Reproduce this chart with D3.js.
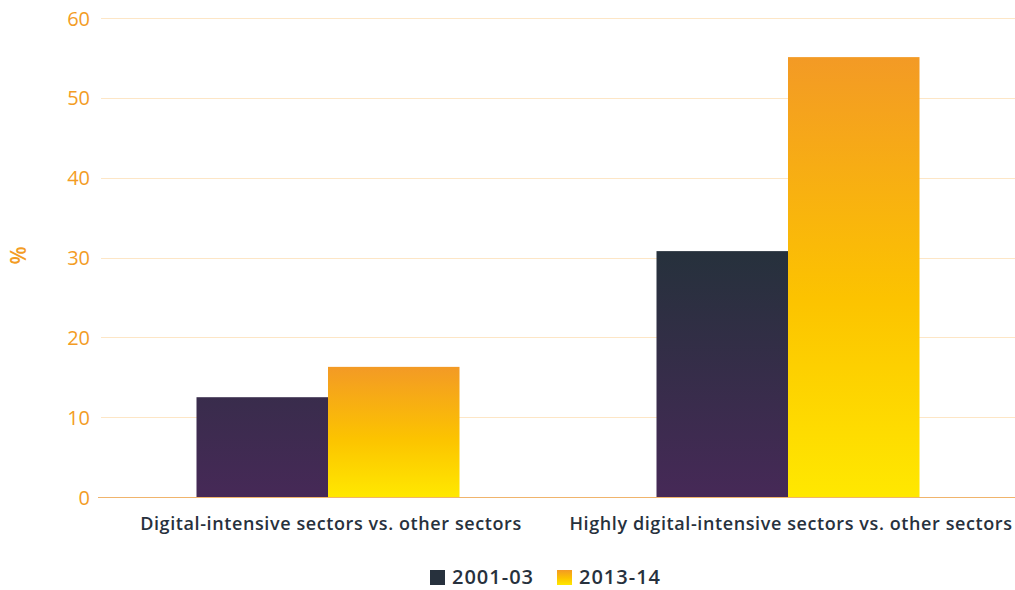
<!DOCTYPE html>
<html>
<head>
<meta charset="utf-8">
<script src="https://cdn.jsdelivr.net/npm/d3@7"></script>
<style>
  html, body { margin: 0; padding: 0; background: #fff; }
  svg { display: block; font-family: "Open Sans", "DejaVu Sans", sans-serif; }
</style>
</head>
<body>
<svg id="chart" width="1015" height="590"></svg>
<script>
// Share of firms, per sector comparison and period
const categories = [
  "Digital-intensive sectors vs. other sectors",
  "Highly digital-intensive sectors vs. other sectors"
];
const seriesNames = ["2001-03", "2013-14"];
const values2001 = [12.5, 30.8];
const values2013 = [16.3, 55.1];
const yTicks = [0, 10, 20, 30, 40, 50, 60];

const FONT = '"Open Sans", "DejaVu Sans", sans-serif';
const svg = d3.select("#chart");
const W = 1015, H = 590;
const plot = { left: 98, right: 1018, top: 18, bottom: 497 };

const x0 = d3.scaleBand().domain(categories).range([plot.left, plot.right]).paddingInner(0).paddingOuter(0);
const groupWidth = 263;
const x1 = d3.scaleBand().domain(seriesNames).range([0, groupWidth]);
const y = d3.scaleLinear().domain([0, 60]).range([plot.bottom, plot.top]);

// gradients
const defs = svg.append("defs");
const dark = defs.append("linearGradient")
  .attr("id", "gDark").attr("gradientUnits", "userSpaceOnUse")
  .attr("x1", 0).attr("x2", 0)
  .attr("y1", y(d3.max(values2001))).attr("y2", y(0));
dark.append("stop").attr("offset", 0).attr("stop-color", "#26313c");
dark.append("stop").attr("offset", 1).attr("stop-color", "#462957");

const warm = defs.append("linearGradient")
  .attr("id", "gWarm").attr("x1", 0).attr("x2", 0).attr("y1", 0).attr("y2", 1);
warm.append("stop").attr("offset", 0).attr("stop-color", "#f39a25");
warm.append("stop").attr("offset", 0.55).attr("stop-color", "#fcc300");
warm.append("stop").attr("offset", 1).attr("stop-color", "#ffe800");

// grid lines
svg.append("g")
  .selectAll("line")
  .data(yTicks.filter(d => d > 0))
  .join("line")
  .attr("x1", 101).attr("x2", W)
  .attr("y1", d => Math.round(y(d)) + 0.5).attr("y2", d => Math.round(y(d)) + 0.5)
  .attr("stroke", "#fde6c6").attr("stroke-width", 1);

// y axis labels
const yAxis = d3.axisLeft(y).tickValues(yTicks).tickSize(0).tickPadding(0);
const gy = svg.append("g").attr("transform", "translate(90,0)").call(yAxis)
  .attr("font-family", FONT).attr("font-size", 20);
gy.select(".domain").remove();
gy.selectAll("text")
  .attr("fill", "#f39c24")
  .attr("dy", "0.35em");

// axis title
svg.append("text")
  .attr("transform", `translate(26,${(plot.top + plot.bottom) / 2 - 2}) rotate(-90)`)
  .attr("text-anchor", "middle")
  .attr("fill", "#f39c24")
  .attr("font-size", 21)
  .attr("font-weight", 600)
  .text("%");

// bars
const groups = svg.append("g")
  .selectAll("g")
  .data(categories)
  .join("g")
  .attr("transform", d => `translate(${x0(d) + (x0.bandwidth() - groupWidth) / 2},0)`);

groups.append("rect")
  .attr("x", x1(seriesNames[0]))
  .attr("width", x1.bandwidth())
  .attr("y", (d, i) => y(values2001[i]))
  .attr("height", (d, i) => y(0) - y(values2001[i]))
  .attr("fill", "url(#gDark)");

groups.append("rect")
  .attr("x", x1(seriesNames[1]))
  .attr("width", x1.bandwidth())
  .attr("y", (d, i) => y(values2013[i]))
  .attr("height", (d, i) => y(0) - y(values2013[i]))
  .attr("fill", "url(#gWarm)");

// baseline
svg.append("line")
  .attr("x1", 98).attr("x2", W)
  .attr("y1", y(0) + 0.5).attr("y2", y(0) + 0.5)
  .attr("stroke", "#f0b46c").attr("stroke-width", 1);

// category labels
const xAxis = d3.axisBottom(x0).tickSize(0).tickPadding(0);
const gx = svg.append("g").attr("transform", `translate(3,${plot.bottom + 33})`).call(xAxis)
  .attr("font-family", FONT).attr("font-size", 18);
gx.select(".domain").remove();
gx.selectAll("text")
  .attr("fill", "#27313d")
  .attr("font-weight", 600)
  .attr("letter-spacing", 0.6)
  .attr("dy", 0);

// legend
const legend = svg.append("g").attr("transform", "translate(430,569)");
const items = [
  { name: seriesNames[0], fill: "#27313d", x: 0 },
  { name: seriesNames[1], fill: "url(#gWarm)", x: 127 }
];
const li = legend.selectAll("g").data(items).join("g")
  .attr("transform", d => `translate(${d.x},0)`);
li.append("rect").attr("y", 1).attr("width", 15).attr("height", 15).attr("fill", d => d.fill);
li.append("text")
  .attr("x", 22).attr("y", 15)
  .attr("fill", "#27313d")
  .attr("font-size", 20)
  .attr("font-weight", 600)
  .attr("letter-spacing", 1)
  .text(d => d.name);
</script>
</body>
</html>
